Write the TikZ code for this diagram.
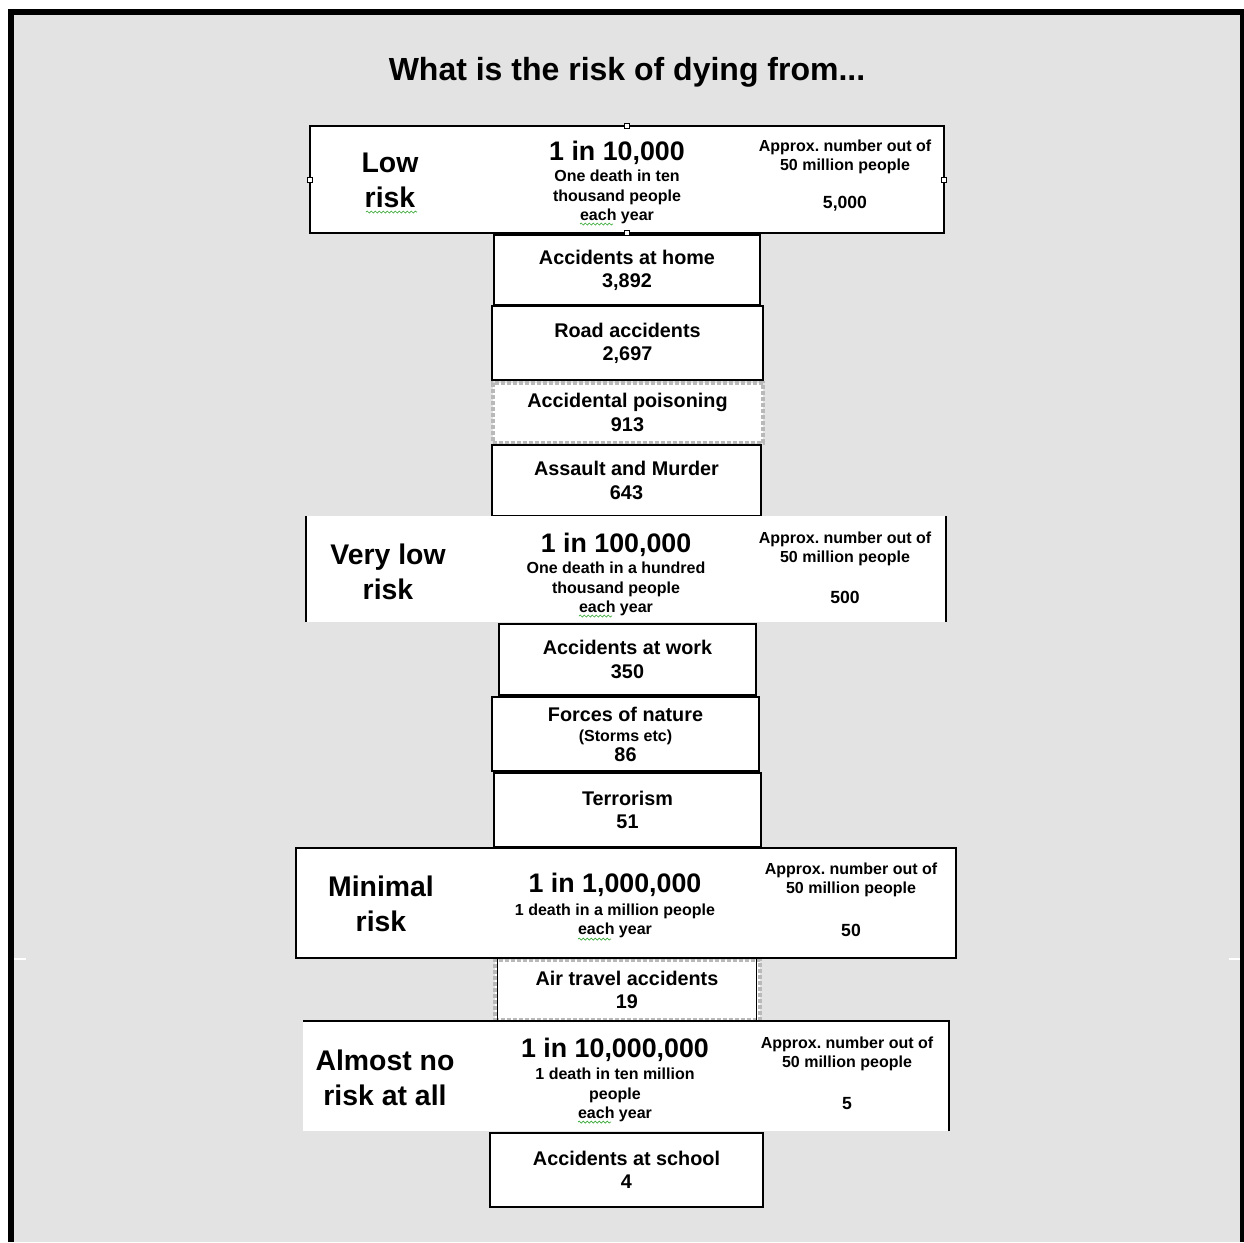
\documentclass[tikz,border=0pt]{standalone}
\usepackage{fontspec}
\setmainfont{Liberation Sans}
\usetikzlibrary{positioning,decorations.pathmorphing}
\definecolor{pagegray}{RGB}{227,227,227}
\definecolor{spellgreen}{RGB}{60,170,60}
\frenchspacing

\begin{document}
\begin{tikzpicture}[x=0.5pt,y=-0.5pt,
    every node/.style={inner sep=0,align=center,font=\bfseries},
    itembox/.style={draw,line width=1pt,fill=white,font=\bfseries\itemfont},
    hatchbox/.style={draw=gray!55,densely dotted,line width=2pt,fill=white,font=\bfseries\itemfont},
    headline/.style={line width=0.6pt},
    handle/.style={draw,fill=white,line width=0.4pt,minimum size=2.5pt},
    spellmark/.style={spellgreen,line width=0.35pt,decorate,decoration={snake,amplitude=0.5pt,segment length=2pt}}]
    \providecommand{\titlefont}{\fontsize{16}{19}\selectfont}
    \providecommand{\levelfont}{\fontsize{14.2}{17.4}\selectfont}
    \providecommand{\ratefont}{\fontsize{13.4}{16}\selectfont}
    \providecommand{\notefont}{\fontsize{8}{9.6}\selectfont}
    \providecommand{\countfont}{\fontsize{8.8}{10}\selectfont}
    \providecommand{\itemfont}{\fontsize{9.9}{11.6}\selectfont}
    \useasboundingbox (0,0) rectangle (1244,1243);
    % page frame
    \fill[black] (8,9) rectangle (1244,1242);
    \fill[pagegray] (14,15) rectangle (1240,1242);
    \draw[white,line width=0.6pt] (14,959) -- (26,959) (1229,959) -- (1240,959);

    \node[font=\bfseries\titlefont] (title) at (627,72) {What is the risk of dying from...};

    % causes
    \node[itembox,minimum width=133pt,minimum height=35pt] (home) at (627,270) {Accidents at home\\3,892};
    \node[itembox,minimum width=135.5pt,minimum height=37pt] (road) at (627.5,343) {Road accidents\\2,697};
    \node[hatchbox,minimum width=135pt,minimum height=30pt] (poison) at (627.5,412.5) {\textcolor{black}{Accidental poisoning}\\\textcolor{black}{913}};
    \node[itembox,minimum width=134.5pt,minimum height=35.5pt] (assault) at (626.5,480.5) {Assault and Murder\\643};
    \node[itembox,minimum width=128.5pt,minimum height=35.5pt] (work) at (627.5,659.5) {Accidents at work\\350};
    \node[itembox,minimum width=133.5pt,minimum height=37pt] (nature) at (625.5,734) {Forces of nature\\[-1.6pt]{\notefont (Storms etc)}\\[-1.6pt]86};
    \node[itembox,minimum width=133.5pt,minimum height=37pt] (terror) at (627.5,810) {Terrorism\\51};
    \node[hatchbox,minimum width=132.5pt,minimum height=30pt] (air) at (627,990) {\textcolor{black}{Air travel accidents}\\\textcolor{black}{19}};
    \draw[line width=0.8pt] ([xshift=2.5pt]air.north west) -- ([xshift=2.5pt]air.south west)
        ([xshift=-2.5pt]air.north east) -- ([xshift=-2.5pt]air.south east);
    \node[itembox,minimum width=136.5pt,minimum height=37pt] (school) at (626.5,1170) {Accidents at school\\4};

    % low risk
    \fill[white] (310,126) rectangle (944,233);
    \draw[headline] (310,126) rectangle (944,233);
    \node[handle] (lowtop) at (627,126) {};
    \node[handle] (lowbot) at (627,233) {};
    \node[handle] (lowwest) at (310,180) {};
    \node[handle] (loweast) at (944,180) {};
    \node[font=\bfseries\levelfont] (lowlevel) at (390,180) {Low\\risk};
    \node[font=\bfseries\ratefont] (lowrate) at (617,153) {1 in 10,000};
    \node[font=\bfseries\notefont] (lownote) at (617,197) {One death in ten\\thousand people\\each year};
    \node[font=\bfseries\notefont] (lowapprox) at (845,157) {Approx. number out of\\50 million people};
    \node[font=\bfseries\countfont] (lowcount) at (845,204) {5,000};
    \draw[spellmark] (366,212) -- (417,212);
    \draw[spellmark] (580,224) -- (613,224);

    % very low risk
    \fill[white] (306,516) rectangle (946,622);
    \draw[headline] (306,516) -- (306,622) (946,516) -- (946,622);
    \node[font=\bfseries\levelfont] (vlowlevel) at (388,572) {Very low\\risk};
    \node[font=\bfseries\ratefont] (vlowrate) at (616,545) {1 in 100,000};
    \node[font=\bfseries\notefont] (vlownote) at (616,589) {One death in a hundred\\thousand people\\each year};
    \node[font=\bfseries\notefont] (vlowapprox) at (845,549) {Approx. number out of\\50 million people};
    \node[font=\bfseries\countfont] (vlowcount) at (845,597) {500};
    \draw[spellmark] (579,616) -- (612,616);

    % minimal risk
    \fill[white] (296,848) rectangle (956,958);
    \draw[headline] (296,848) rectangle (956,958);
    \node[font=\bfseries\levelfont] (minlevel) at (381,904) {Minimal\\risk};
    \node[font=\bfseries\ratefont] (minrate) at (615,885) {1 in 1,000,000};
    \node[font=\bfseries\notefont] (minnote) at (615,921) {1 death in a million people\\each year};
    \node[font=\bfseries\notefont] (minapprox) at (851,880) {Approx. number out of\\50 million people};
    \node[font=\bfseries\countfont] (mincount) at (851,930) {50};
    \draw[spellmark] (578,939) -- (611,939);

    % almost no risk
    \fill[white] (303,1021) rectangle (949,1131);
    \draw[headline] (303,1021) -- (949,1021) -- (949,1131);
    \node[font=\bfseries\levelfont] (nolevel) at (385,1078) {Almost no\\risk at all};
    \node[font=\bfseries\ratefont] (norate) at (615,1050) {1 in 10,000,000};
    \node[font=\bfseries\notefont] (nonote) at (615,1095) {1 death in ten million\\people\\each year};
    \node[font=\bfseries\notefont] (noapprox) at (847,1054) {Approx. number out of\\50 million people};
    \node[font=\bfseries\countfont] (nocount) at (847,1104) {5};
    \draw[spellmark] (578,1122) -- (611,1122);
\end{tikzpicture}
\end{document}
